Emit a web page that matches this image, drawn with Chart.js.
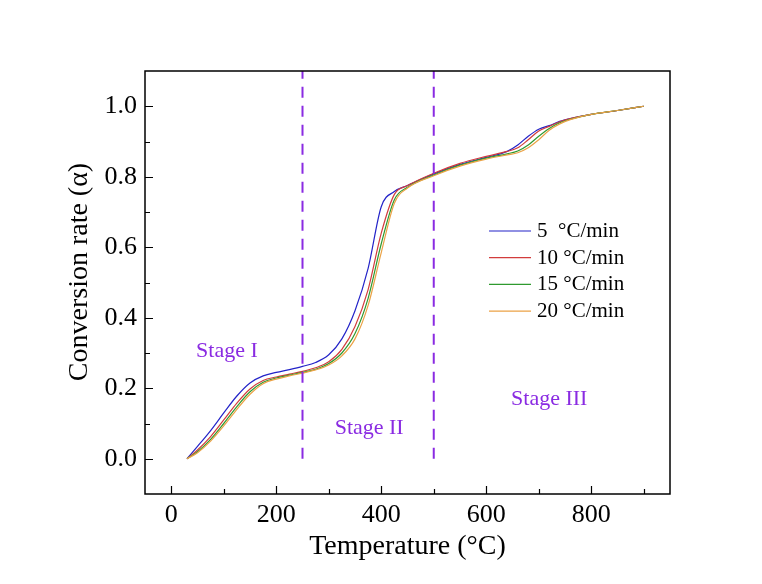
<!DOCTYPE html>
<html>
<head>
<meta charset="utf-8">
<script src="https://cdn.jsdelivr.net/npm/chart.js@4.4.1/dist/chart.umd.min.js"></script>
<style>
  html, body { margin: 0; padding: 0; background: #fff; }
  canvas { display: block; }
</style>
</head>
<body>
<canvas id="conversion" width="762" height="584"></canvas>
<script>
// Temperature grid (°C) shared by all four heating rates
const temperatures = [30, 50, 75, 100, 125, 150, 175, 200, 225, 250, 275, 300, 325, 350, 375, 400, 425, 450, 500, 550, 600, 640, 660, 680, 700, 720, 740, 760, 800, 850, 900];

// Conversion rate (alpha)
const rate5 = [0.0, 0.035, 0.08, 0.13, 0.178, 0.215, 0.235, 0.245, 0.253, 0.262, 0.273, 0.295, 0.34, 0.42, 0.54, 0.715, 0.758, 0.775, 0.808, 0.835, 0.855, 0.872, 0.89, 0.915, 0.935, 0.945, 0.957, 0.965, 0.977, 0.988, 1.0];
const rate10 = [0.0, 0.025, 0.063, 0.11, 0.158, 0.198, 0.222, 0.232, 0.24, 0.248, 0.258, 0.275, 0.31, 0.375, 0.48, 0.64, 0.75, 0.775, 0.81, 0.838, 0.858, 0.872, 0.882, 0.905, 0.93, 0.943, 0.956, 0.965, 0.977, 0.988, 1.0];
const rate15 = [0.0, 0.02, 0.055, 0.1, 0.148, 0.19, 0.217, 0.229, 0.237, 0.245, 0.254, 0.27, 0.3, 0.355, 0.455, 0.61, 0.735, 0.77, 0.805, 0.833, 0.853, 0.865, 0.873, 0.89, 0.915, 0.937, 0.953, 0.963, 0.977, 0.988, 1.0];
const rate20 = [0.0, 0.017, 0.05, 0.093, 0.14, 0.183, 0.213, 0.226, 0.235, 0.243, 0.252, 0.266, 0.292, 0.34, 0.435, 0.585, 0.725, 0.768, 0.803, 0.83, 0.85, 0.862, 0.868, 0.882, 0.905, 0.932, 0.95, 0.962, 0.977, 0.988, 1.0];

const seriesLabels = ['5  °C/min', '10 °C/min', '15 °C/min', '20 °C/min'];
const seriesColors = ['#2323c8', '#d23c3c', '#2f9a2f', '#eba246'];

// Stage boundaries (°C) and names
const stageBounds = [250, 500];
const stageNames = ['Stage I', 'Stage II', 'Stage III'];

// Axis ticks
const xTicks = [0, 200, 400, 600, 800];
const xMinorTicks = [100, 300, 500, 700, 900];
const yTicks = [0.0, 0.2, 0.4, 0.6, 0.8, 1.0];
const yMinorTicks = [0.1, 0.3, 0.5, 0.7, 0.9];

const purple = '#8a2be2';
const serif = '"Liberation Serif", "Times New Roman", serif';

Chart.defaults.font.family = serif;
Chart.defaults.color = '#000';

const toPoints = values => temperatures.map((t, i) => ({ x: t, y: values[i] }));
const allRates = [rate5, rate10, rate15, rate20];

const curveSets = allRates.map((values, i) => ({
    label: seriesLabels[i],
    data: toPoints(values),
    borderColor: seriesColors[i],
    borderWidth: 1.2,
    pointRadius: 0,
    fill: false,
    cubicInterpolationMode: 'monotone',
    order: 4 - i
}));

const boundSets = stageBounds.map(t => ({
    label: 'bound ' + t,
    data: [{ x: t, y: 0 }, { x: t, y: 1.1 }],
    borderColor: purple,
    borderWidth: 2,
    borderDash: [11, 8],
    pointRadius: 0,
    fill: false,
    order: 0
}));

// where the stage names sit, in data units (°C, alpha)
const stageAnchors = [[106, 0.288], [377, 0.071], [720, 0.153]];

// frame, inward tick marks, stage names and the legend
const decorations = {
    id: 'decorations',
    afterDraw(chart) {
        const { ctx, chartArea: a, scales: { x, y } } = chart;
        ctx.save();
        ctx.strokeStyle = '#000';
        ctx.lineWidth = 1.5;
        ctx.strokeRect(a.left, a.top, a.right - a.left, a.bottom - a.top);

        ctx.lineWidth = 1.2;
        ctx.beginPath();
        xTicks.concat(xMinorTicks).forEach(v => {
            const len = xTicks.includes(v) ? 8 : 5;
            const px = Math.round(x.getPixelForValue(v)) + 0.5;
            ctx.moveTo(px, a.bottom); ctx.lineTo(px, a.bottom - len);
        });
        yTicks.concat(yMinorTicks).forEach(v => {
            const len = yTicks.includes(v) ? 8 : 5;
            const py = Math.round(y.getPixelForValue(v)) + 0.5;
            ctx.moveTo(a.left, py); ctx.lineTo(a.left + len, py);
        });
        ctx.stroke();

        ctx.fillStyle = purple;
        ctx.font = '22px ' + serif;
        ctx.textAlign = 'center';
        ctx.textBaseline = 'alphabetic';
        stageNames.forEach((name, i) => {
            const [t, r] = stageAnchors[i];
            ctx.fillText(name, x.getPixelForValue(t), y.getPixelForValue(r));
        });

        // legend
        const lx = a.right - 181, ly = a.top + 160, step = 26.7;
        ctx.font = '21px ' + serif;
        ctx.textAlign = 'left';
        seriesLabels.forEach((label, i) => {
            const rowY = ly + i * step;
            ctx.strokeStyle = seriesColors[i];
            ctx.lineWidth = 1.2;
            ctx.beginPath();
            ctx.moveTo(lx, rowY); ctx.lineTo(lx + 42, rowY);
            ctx.stroke();
            ctx.fillStyle = '#000';
            ctx.fillText(label, lx + 48, rowY + 6);
        });
        ctx.restore();
    }
};

new Chart(document.getElementById('conversion'), {
    type: 'line',
    data: { datasets: curveSets.concat(boundSets) },
    options: {
        responsive: false,
        animation: false,
        layout: { padding: { left: 0, top: 71, right: 92, bottom: 0 } },
        plugins: {
            legend: { display: false },
            tooltip: { enabled: false }
        },
        scales: {
            x: {
                type: 'linear',
                min: -50,
                max: 950,
                afterFit: scale => { scale.height = 90; },
                afterBuildTicks: scale => { scale.ticks = xTicks.map(v => ({ value: v })); },
                grid: { display: false, drawTicks: false },
                border: { display: false },
                ticks: { font: { size: 26 }, padding: 6, maxRotation: 0 },
                title: { display: true, text: 'Temperature (°C)', font: { size: 28 }, padding: { top: 0, bottom: 21 } }
            },
            y: {
                type: 'linear',
                min: -0.1,
                max: 1.1,
                afterFit: scale => { scale.width = 145; },
                afterBuildTicks: scale => { scale.ticks = yTicks.map(v => ({ value: v })); },
                grid: { display: false, drawTicks: false },
                border: { display: false },
                ticks: { font: { size: 26 }, padding: 8, callback: v => v.toFixed(1) },
                title: { display: true, text: '   Conversion rate (α)', font: { size: 28 }, padding: { top: 63, bottom: 0 } }
            }
        }
    },
    plugins: [decorations]
});
</script>
</body>
</html>
